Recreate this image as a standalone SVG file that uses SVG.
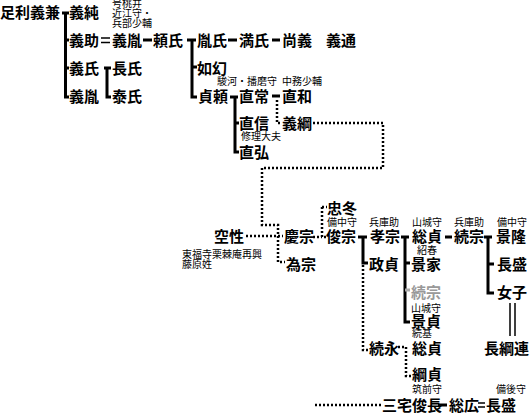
<svg xmlns="http://www.w3.org/2000/svg" width="531" height="414" viewBox="0 0 531 414">
<style>
.n{font-family:"Noto Sans CJK JP","Noto Sans CJK SC",sans-serif;font-size:15px;font-weight:bold;fill:#000}
.s{font-family:"Noto Sans CJK JP","Noto Sans CJK SC",sans-serif;font-size:10px;fill:#000}
.g{fill:#999}
.c{fill:none;stroke:#000;stroke-width:3}
.t{fill:none;stroke:#000;stroke-width:1.5}
.d{fill:none;stroke:#000;stroke-width:2.5;stroke-dasharray:2 2}
</style>
<rect width="531" height="414" fill="#fff"/>
<g id="connectors">
<path class="c" d="M62,13 H69 M65.5,13 V97 H69 M65.5,40 H69 M65.5,68 H69"/>
<path class="t" d="M101,38 H110 M101,42.5 H110"/>
<path class="c" d="M143,40 H152"/>
<path class="c" d="M187,40 H196 M192,40 V97 H197 M192,67 H197"/>
<path class="c" d="M228,40 H237 M272,40 H280"/>
<path class="c" d="M104,68 H111 M107,68 V97 H111"/>
<path class="c" d="M230,97 H238 M235,97 V152 H239 M235,123 H239"/>
<path class="c" d="M272,96 H280"/>
<path class="c" d="M358,237 H367 M363,237 V263 H368"/>
<path class="c" d="M401,237 H409 M405,237 V322 H410 M405,263 H410"/>
<path class="c" d="M405,290 H410" stroke="#aaa" style="stroke:#aaa"/>
<path class="c" d="M445,237 H452"/>
<path class="c" d="M484,237 H492 M488,237 V293 H494 M488,264 H494"/>
<path class="t" d="M510,303 V336 M515,303 V336"/>
<path class="c" d="M438,405 H447"/>
<path class="t" d="M478,403 H485 M478,407 H485"/>
<path class="d" d="M277,100 V123 H282"/>
<path class="d" d="M313,123 H383 V168 H262 V225 H278 V262 H285"/>
<path class="d" d="M246,236 H283"/>
<path class="d" d="M313,237 H322 M322,207 V237 H327 M322,207 H327"/>
<path class="d" d="M363,265 V350 H369"/>
<path class="d" d="M398,347 H406 V376 H411"/>
<path class="d" d="M315,405 H382"/>
</g>
<g id="ashikaga-yoshikane"><text class="n" x="0" y="17.5">足利義兼</text></g>
<g id="yoshizumi"><text class="n" x="69" y="17.5">義純</text><text class="s" x="112" y="7">号桃井</text><text class="s" x="112" y="17">近江守・</text><text class="s" x="112" y="27">兵部少輔</text></g>
<g id="yoshisuke"><text class="n" x="69" y="45.5">義助</text></g>
<g id="yoshitane1"><text class="n" x="112" y="45.5">義胤</text></g>
<g id="yoriuji"><text class="n" x="153" y="45.5">頼氏</text></g>
<g id="taneuji"><text class="n" x="197" y="45.5">胤氏</text></g>
<g id="mitsuuji"><text class="n" x="239" y="45.5">満氏</text></g>
<g id="naoyoshi"><text class="n" x="282" y="45.5">尚義</text></g>
<g id="yoshimichi"><text class="n" x="326" y="45.5">義通</text></g>
<g id="yoshiuji"><text class="n" x="69" y="73.5">義氏</text></g>
<g id="nagauji"><text class="n" x="112" y="73.5">長氏</text></g>
<g id="nyogen"><text class="n" x="197" y="73.5">如幻</text></g>
<g id="yoshitane2"><text class="n" x="69" y="101.5">義胤</text></g>
<g id="yasuuji"><text class="n" x="112" y="101.5">泰氏</text></g>
<g id="sadayori"><text class="n" x="198" y="101.5">貞頼</text></g>
<g id="naotsune"><text class="s" x="217" y="85">駿河・播磨守</text><text class="n" x="239" y="101.5">直常</text></g>
<g id="naokazu"><text class="s" x="282" y="85">中務少輔</text><text class="n" x="282" y="101.5">直和</text></g>
<g id="naonobu"><text class="n" x="239" y="128.5">直信</text><text class="s" x="241" y="140">修理大夫</text></g>
<g id="yoshitsuna"><text class="n" x="282" y="128.5">義綱</text></g>
<g id="naohiro"><text class="n" x="239" y="157.5">直弘</text></g>
<g id="tadafuyu"><text class="n" x="327" y="213.5">忠冬</text></g>
<g id="kusho"><text class="n" x="214" y="241.5">空性</text><text class="s" x="182" y="258">東福寺栗棘庵再興</text><text class="s" x="182" y="268">藤原姓</text></g>
<g id="yoshimune"><text class="n" x="284" y="241.5">慶宗</text></g>
<g id="tamemune"><text class="n" x="286" y="269.5">為宗</text></g>
<g id="toshimune"><text class="s" x="327" y="226">備中守</text><text class="n" x="326" y="241.5">俊宗</text></g>
<g id="takamune"><text class="s" x="369" y="226">兵庫助</text><text class="n" x="370" y="241.5">孝宗</text></g>
<g id="fusasada1"><text class="s" x="412" y="226">山城守</text><text class="n" x="412" y="241.5">総貞</text><text class="s" x="417" y="254">紹春</text></g>
<g id="tsugumune1"><text class="s" x="454" y="226">兵庫助</text><text class="n" x="454" y="241.5">続宗</text></g>
<g id="kagetaka"><text class="s" x="497" y="226">備中守</text><text class="n" x="496" y="241.5">景隆</text></g>
<g id="masasada"><text class="n" x="369" y="269.5">政貞</text></g>
<g id="kageie"><text class="n" x="411" y="269.5">景家</text></g>
<g id="nagamori1"><text class="n" x="497" y="269.5">長盛</text></g>
<g id="tsugumune2"><text class="n g" x="411" y="297.5">続宗</text></g>
<g id="joshi"><text class="n" x="497" y="297.5">女子</text></g>
<g id="kagesada"><text class="s" x="411" y="312">山城守</text><text class="n" x="411" y="326.5">景貞</text><text class="s" x="412" y="337">続基</text></g>
<g id="tsuguhisa"><text class="n" x="369" y="353.5">続永</text></g>
<g id="fusasada2"><text class="n" x="412" y="353.5">総貞</text></g>
<g id="cho-tsuratsugu"><text class="n" x="484" y="353.5">長綱連</text></g>
<g id="tsunasada"><text class="n" x="412" y="379.5">綱貞</text><text class="s" x="412" y="393">筑前守</text></g>
<g id="miyake-toshinaga"><text class="n" x="382" y="410.5">三宅俊長</text></g>
<g id="fusahiro"><text class="n" x="449" y="410.5">総広</text></g>
<g id="nagamori2"><text class="s" x="496" y="393">備後守</text><text class="n" x="486" y="410.5">長盛</text></g>
</svg>
